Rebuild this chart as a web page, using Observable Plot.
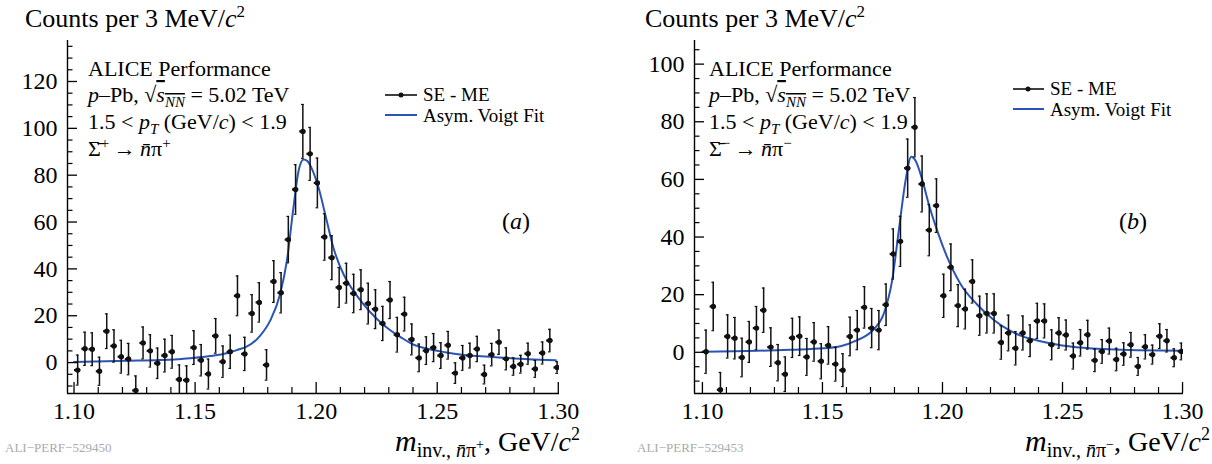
<!DOCTYPE html>
<html>
<head>
<meta charset="utf-8">
<script src="https://cdn.jsdelivr.net/npm/d3@7"></script>
<script src="https://cdn.jsdelivr.net/npm/@observablehq/plot@0.6"></script>
<style>
  body { margin: 0; background: white; }
  #wrap { position: relative; width: 1212px; height: 464px; overflow: hidden; background: white; }
  #pa, #pb { position: absolute; top: 0; }
  #pa { left: 0; }
  #pb { left: 606px; }
  #ov { position: absolute; left: 0; top: 0; pointer-events: none; font-family: "Liberation Serif", serif; }
</style>
</head>
<body>
<div id="wrap">
  <div id="pa"></div>
  <div id="pb"></div>
  <svg id="ov" width="1212" height="464" xmlns="http://www.w3.org/2000/svg">
    <!-- left panel texts -->
    <text x="25" y="27" font-size="26">Counts per 3 MeV/<tspan font-style="italic">c</tspan><tspan dy="-10" font-size="17">2</tspan></text>
    <g font-size="22">
      <text x="88" y="76">ALICE Performance</text>
      <text x="88" y="102"><tspan font-style="italic">p</tspan>–Pb, √<tspan text-decoration="overline"><tspan font-style="italic">s</tspan><tspan font-style="italic" font-size="15" dy="5">NN</tspan></tspan><tspan dy="-5"> = 5.02 TeV</tspan></text>
      <text x="88" y="129">1.5 &lt; <tspan font-style="italic">p</tspan><tspan font-style="italic" font-size="15" dy="5">T</tspan><tspan dy="-5"> (GeV/</tspan><tspan font-style="italic">c</tspan>) &lt; 1.9</text>
      <text x="88" y="156">Σ̄<tspan font-size="15" dy="-8">+</tspan><tspan dy="8">&#8201;→&#8201;</tspan><tspan font-style="italic">n̄</tspan>π<tspan font-size="15" dy="-8">+</tspan></text>
    </g>
    <g font-size="19">
      <text x="423" y="101">SE - ME</text>
      <text x="423" y="122">Asym. Voigt Fit</text>
    </g>
    <line x1="385" x2="417" y1="95" y2="95" stroke="#111" stroke-width="1.6"/>
    <circle cx="401" cy="95" r="2.5" fill="#111"/>
    <line x1="385" x2="417" y1="115" y2="115" stroke="#2a55b5" stroke-width="2"/>
    <text x="516" y="229" font-size="24" text-anchor="middle">(<tspan font-style="italic">a</tspan>)</text>
    <text x="580" y="451" font-size="28" text-anchor="end"><tspan font-style="italic" font-size="30">m</tspan><tspan font-size="20" dy="6">inv., </tspan><tspan font-size="20" font-style="italic">n̄</tspan><tspan font-size="20">π</tspan><tspan font-size="14" dy="-8">+</tspan><tspan dy="2">, GeV/</tspan><tspan font-style="italic">c</tspan><tspan font-size="18" dy="-11">2</tspan></text>
    <text x="5" y="452" font-size="13" fill="#aaa">ALI−PERF−529450</text>

    <!-- right panel texts -->
    <text x="645" y="27" font-size="26">Counts per 3 MeV/<tspan font-style="italic">c</tspan><tspan dy="-10" font-size="17">2</tspan></text>
    <g font-size="22">
      <text x="709" y="76">ALICE Performance</text>
      <text x="709" y="102"><tspan font-style="italic">p</tspan>–Pb, √<tspan text-decoration="overline"><tspan font-style="italic">s</tspan><tspan font-style="italic" font-size="15" dy="5">NN</tspan></tspan><tspan dy="-5"> = 5.02 TeV</tspan></text>
      <text x="709" y="129">1.5 &lt; <tspan font-style="italic">p</tspan><tspan font-style="italic" font-size="15" dy="5">T</tspan><tspan dy="-5"> (GeV/</tspan><tspan font-style="italic">c</tspan>) &lt; 1.9</text>
      <text x="709" y="156">Σ̄<tspan font-size="15" dy="-8">−</tspan><tspan dy="8">&#8201;→&#8201;</tspan><tspan font-style="italic">n̄</tspan>π<tspan font-size="15" dy="-8">−</tspan></text>
    </g>
    <g font-size="19">
      <text x="1050" y="95">SE - ME</text>
      <text x="1050" y="116">Asym. Voigt Fit</text>
    </g>
    <line x1="1013" x2="1044" y1="89" y2="89" stroke="#111" stroke-width="1.6"/>
    <circle cx="1028" cy="89" r="2.5" fill="#111"/>
    <line x1="1013" x2="1044" y1="109" y2="109" stroke="#2a55b5" stroke-width="2"/>
    <text x="1133" y="229" font-size="24" text-anchor="middle">(<tspan font-style="italic">b</tspan>)</text>
    <text x="1210" y="451" font-size="28" text-anchor="end"><tspan font-style="italic" font-size="30">m</tspan><tspan font-size="20" dy="6">inv., </tspan><tspan font-size="20" font-style="italic">n̄</tspan><tspan font-size="20">π</tspan><tspan font-size="14" dy="-8">−</tspan><tspan dy="2">, GeV/</tspan><tspan font-style="italic">c</tspan><tspan font-size="18" dy="-11">2</tspan></text>
    <text x="637" y="452" font-size="13" fill="#aaa">ALI−PERF−529453</text>
  </svg>
</div>
<script>
// Bin centres (3 MeV/c^2 bins), GeV/c^2
const massBins = [
  1.1015, 1.1045, 1.1075, 1.1105, 1.1135, 1.1165, 1.1195, 1.1225, 1.1255, 1.1285,
  1.1315, 1.1345, 1.1375, 1.1405, 1.1435, 1.1465, 1.1495, 1.1525, 1.1555, 1.1585,
  1.1615, 1.1645, 1.1675, 1.1705, 1.1735, 1.1765, 1.1795, 1.1825, 1.1855, 1.1885,
  1.1915, 1.1945, 1.1975, 1.2005, 1.2035, 1.2065, 1.2095, 1.2125, 1.2155, 1.2185,
  1.2215, 1.2245, 1.2275, 1.2305, 1.2335, 1.2365, 1.2395, 1.2425, 1.2455, 1.2485,
  1.2515, 1.2545, 1.2575, 1.2605, 1.2635, 1.2665, 1.2695, 1.2725, 1.2755, 1.2785,
  1.2815, 1.2845, 1.2875, 1.2905, 1.2935, 1.2965, 1.2995
];

// Panel (a): anti-Sigma+ -> anti-n pi+
const countsA = [
  -3.2, 5.9, 5.7, -3.7, 13.4, 7.1, 2.5, 1.5, -11.9, 8.4,
  5.0, -0.3, 3.0, 4.6, -7.2, -7.5, 6.4, 1.0, -4.9, 11.4,
  0.4, 4.6, 28.5, 3.7, 21.0, 25.7, -1.0, 34.6, 29.8, 52.5,
  73.9, 98.7, 89.1, 76.7, 53.6, 44.8, 32.1, 33.9, 29.5, 31.1,
  25.2, 22.8, 16.7, 26.7, 11.9, 20.7, 9.9, 2.0, 5.1, 6.4,
  3.0, 7.4, -4.5, 2.0, 3.0, 5.8, -5.1, 3.4, 8.7, 1.6,
  -1.7, -0.7, 3.8, -2.7, 4.1, 9.4, -2.1
];
const errorsA = [
  6.4, 7.1, 7.0, 6.0, 7.4, 6.9, 7.0, 6.7, 6.2, 6.8,
  6.9, 6.5, 7.0, 7.0, 6.2, 6.1, 7.2, 6.7, 6.4, 7.4,
  6.7, 7.1, 8.5, 7.1, 8.0, 8.4, 6.5, 8.9, 8.6, 9.9,
  10.6, 11.5, 11.3, 10.6, 9.9, 9.4, 8.5, 8.5, 8.2, 8.5,
  8.7, 8.3, 7.3, 7.9, 7.4, 7.2, 6.6, 5.9, 5.9, 6.0,
  5.5, 5.9, 4.4, 5.3, 5.3, 5.4, 4.0, 4.8, 5.2, 4.7,
  3.7, 3.8, 4.5, 3.6, 4.7, 4.8, 2.5
];
const fitMassA = [
  1.1000, 1.1218, 1.1355, 1.1493, 1.1562, 1.1631, 1.1686, 1.1707, 1.1769, 1.1810,
  1.1851, 1.1879, 1.1906, 1.1927, 1.1948, 1.1964, 1.1982, 1.2010, 1.2044, 1.2071,
  1.2113, 1.2154, 1.2195, 1.2251, 1.2306, 1.2347, 1.2395, 1.2464, 1.2533, 1.2602,
  1.2740, 1.2877, 1.2990
];
const fitA = [
  0.3, 0.8, 1.1, 2.0, 2.8, 4.0, 5.8, 6.5, 11.5, 17.9,
  29.2, 43.4, 66.0, 81.7, 86.7, 86.0, 82.8, 74.6, 60.4, 49.1,
  37.7, 30.6, 25.0, 18.6, 13.8, 11.0, 8.0, 5.8, 4.4, 3.3,
  2.3, 1.4, 1.0
];

// Panel (b): anti-Sigma- -> anti-n pi-
const countsB = [
  0.2, 15.9, -13.0, 5.5, 4.9, -1.8, 3.6, 8.4, 14.6, 1.8,
  -3.6, -7.6, 5.0, 5.6, -1.6, 3.6, -3.1, 2.4, -4.1, -6.2,
  5.5, 7.7, 15.6, 8.4, 7.7, 16.5, 34.1, 38.5, 63.9, 78.1,
  58.4, 42.4, 50.9, 19.6, 29.5, 16.2, 15.0, 24.6, 12.7, 13.5,
  13.5, 3.4, 6.7, 1.4, 6.7, 4.0, 10.9, 10.9, 2.6, 6.7,
  6.0, -1.3, 3.3, 6.1, -2.8, 0.3, 3.9, -2.5, -0.6, 2.6,
  -4.9, 1.9, -0.8, 5.6, 4.0, -1.9, 0.3
];
const errorsB = [
  7.5, 8.4, 6.0, 7.5, 7.2, 6.7, 7.1, 7.5, 7.7, 6.7,
  6.3, 6.0, 6.8, 6.7, 6.4, 6.7, 6.1, 6.5, 5.9, 5.7,
  6.7, 6.8, 7.2, 6.8, 6.8, 7.2, 8.7, 8.7, 10.1, 10.3,
  9.7, 8.9, 9.3, 7.5, 8.1, 7.3, 6.9, 7.5, 6.8, 6.8,
  6.8, 5.8, 6.2, 5.8, 5.9, 5.5, 6.1, 5.9, 5.2, 5.3,
  5.2, 4.5, 4.6, 5.0, 3.9, 4.1, 4.5, 3.9, 3.9, 4.3,
  3.1, 4.2, 3.3, 4.3, 3.9, 3.1, 2.9
];
const fitMassB = [
  1.1000, 1.1228, 1.1367, 1.1505, 1.1575, 1.1645, 1.1700, 1.1714, 1.1755, 1.1790,
  1.1818, 1.1846, 1.1870, 1.1888, 1.1915, 1.1943, 1.1978, 1.2020, 1.2075, 1.2145,
  1.2214, 1.2283, 1.2325, 1.2367, 1.2395, 1.2464, 1.2533, 1.2672, 1.2811, 1.3000
];
const fitB = [
  0.2, 0.5, 0.9, 1.4, 2.1, 4.2, 6.9, 8.0, 13.3, 24.8,
  42.2, 59.5, 67.9, 66.5, 60.1, 51.4, 42.2, 32.9, 23.7, 16.5,
  11.2, 7.4, 5.8, 4.7, 4.1, 2.9, 2.0, 1.1, 0.75, 0.5
];

// Axis ticks
const xMajorTicks = [1.10, 1.15, 1.20, 1.25, 1.30];
const xMinorTicks = [1.11, 1.12, 1.13, 1.14, 1.16, 1.17, 1.18, 1.19, 1.21, 1.22, 1.23, 1.24, 1.26, 1.27, 1.28, 1.29];
const yMajorTicksA = [0, 20, 40, 60, 80, 100, 120];
const yMinorTicksA = [-10, -5, 5, 10, 15, 25, 30, 35, 45, 50, 55, 65, 70, 75, 85, 90, 95, 105, 110, 115, 125, 130, 135];
const yMajorTicksB = [0, 20, 40, 60, 80, 100];
const yMinorTicksB = [-10, -5, 5, 10, 15, 25, 30, 35, 45, 50, 55, 65, 70, 75, 85, 90, 95, 105];

const BLUE = "#2a55b5";
const INK = "#111";

function panel({counts, errors, fitMass, fit, xDomain, yDomain, marginLeft, marginRight, yMajor, yMinor}) {
  const W = 606, H = 464, mt = 40, mb = 71;
  const kx = (W - marginLeft - marginRight) / (xDomain[1] - xDomain[0]);
  const ky = (H - mt - mb) / (yDomain[1] - yDomain[0]);
  const x0 = xDomain[0], y0 = yDomain[0];
  const pts = massBins.map((m, i) => ({m, c: counts[i], e: errors[i]}));
  const line = fitMass.map((m, i) => ({m, v: fit[i]}));
  const capW = 0.55 / 1000;   // error-bar cap half width (GeV)
  const binHalf = 1.3 / 1000; // horizontal bar half width (GeV)
  return Plot.plot({
    width: W, height: H,
    marginLeft, marginRight, marginTop: mt, marginBottom: mb,
    x: {domain: xDomain},
    y: {domain: yDomain},
    style: {fontFamily: "Liberation Serif, serif", fontSize: "24px", color: "black", background: "transparent", overflow: "visible"},
    marks: [
      // fit curve
      Plot.line(line, {x: "m", y: "v", stroke: BLUE, strokeWidth: 2, curve: "monotone-x", clip: true}),
      // vertical error bars
      Plot.ruleX(pts, {x: "m", y1: d => d.c - d.e, y2: d => d.c + d.e, stroke: INK, strokeWidth: 1.5, clip: true}),
      Plot.ruleY(pts, {y: d => d.c - d.e, x1: d => d.m - capW, x2: d => d.m + capW, stroke: INK, strokeWidth: 1.2, clip: true}),
      Plot.ruleY(pts, {y: d => d.c + d.e, x1: d => d.m - capW, x2: d => d.m + capW, stroke: INK, strokeWidth: 1.2, clip: true}),
      // horizontal bin-width bars
      Plot.ruleY(pts, {y: "c", x1: d => d.m - binHalf, x2: d => d.m + binHalf, stroke: INK, strokeWidth: 2.2, clip: true}),
      Plot.dot(pts, {x: "m", y: "c", r: 2.7, fill: INK, stroke: "none", clip: true}),
      // axis lines
      Plot.ruleX([x0], {stroke: "black", strokeWidth: 1.4}),
      Plot.ruleY([y0], {stroke: "black", strokeWidth: 1.4}),
      // inward ticks
      Plot.ruleY(yMajor, {y: d => d, x1: x0, x2: x0 + 10 / kx, stroke: "black", strokeWidth: 1.3}),
      Plot.ruleY(yMinor, {y: d => d, x1: x0, x2: x0 + 5.5 / kx, stroke: "black", strokeWidth: 1.2}),
      Plot.ruleX(xMajorTicks, {x: d => d, y1: y0, y2: y0 + 11 / ky, stroke: "black", strokeWidth: 1.3}),
      Plot.ruleX(xMinorTicks, {x: d => d, y1: y0, y2: y0 + 6 / ky, stroke: "black", strokeWidth: 1.2}),
      // tick labels
      Plot.axisY({ticks: yMajor, tickSize: 0, tickPadding: 10, label: null, fontSize: 24}),
      Plot.axisX({ticks: xMajorTicks, tickSize: 0, tickPadding: 8, label: null, fontSize: 24, tickFormat: d3.format(".2f")})
    ]
  });
}

document.getElementById("pa").append(panel({
  counts: countsA, errors: errorsA, fitMass: fitMassA, fit: fitA,
  xDomain: [1.0973, 1.3005], yDomain: [-13.2, 137.5],
  marginLeft: 67, marginRight: 47,
  yMajor: yMajorTicksA, yMinor: yMinorTicksA
}));
document.getElementById("pb").append(panel({
  counts: countsB, errors: errorsB, fitMass: fitMassB, fit: fitB,
  xDomain: [1.0967, 1.3004], yDomain: [-14.3, 108.2],
  marginLeft: 88, marginRight: 29,
  yMajor: yMajorTicksB, yMinor: yMinorTicksB
}));
</script>
</body>
</html>
